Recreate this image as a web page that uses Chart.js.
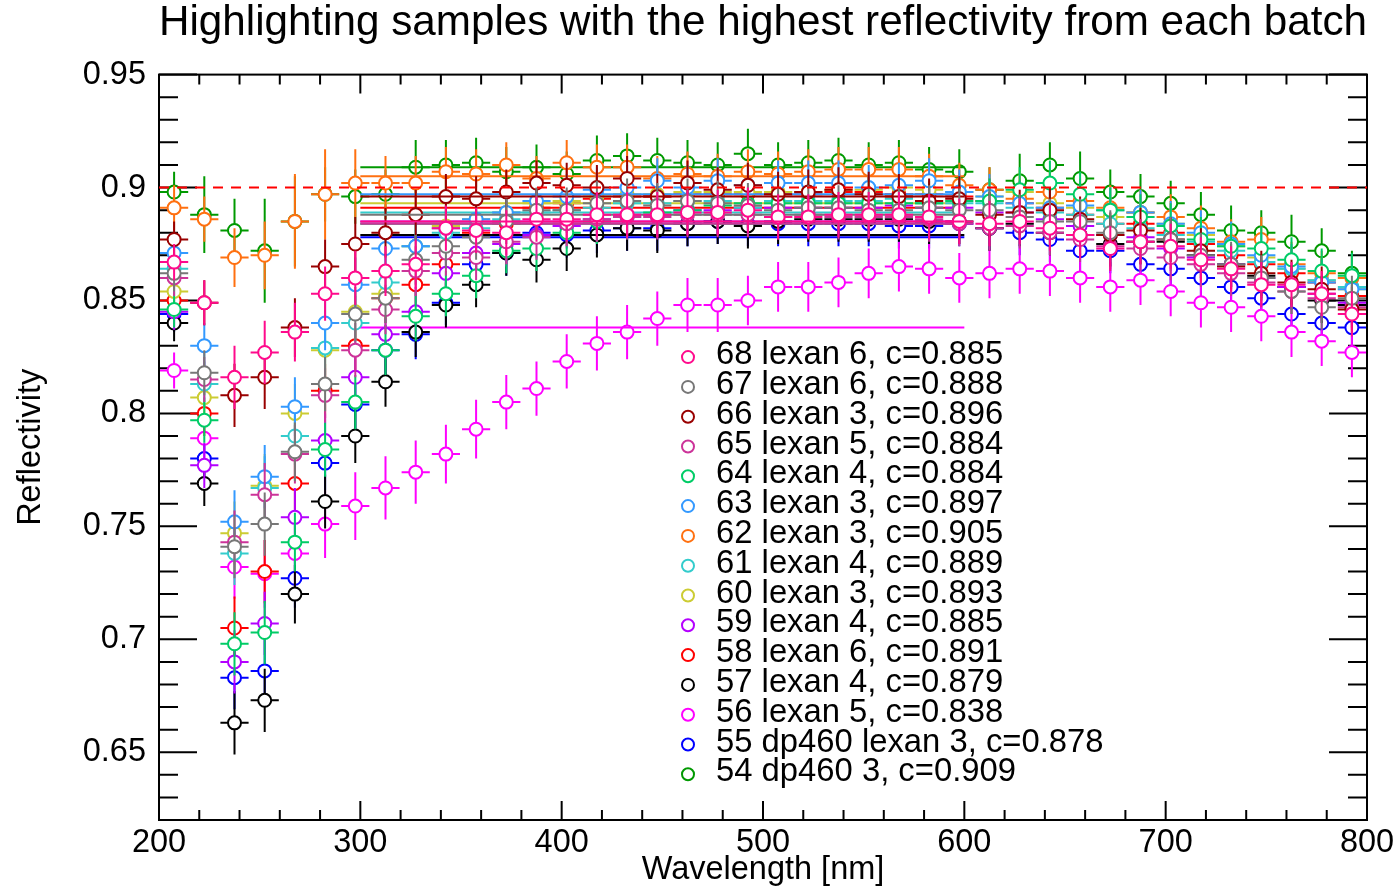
<!DOCTYPE html>
<html>
<head>
<meta charset="utf-8">
<title>Reflectivity by batch</title>
<script src="https://cdn.jsdelivr.net/npm/chart.js@4.4.0/dist/chart.umd.min.js"></script>
<style>
  html, body { margin: 0; padding: 0; background: #fff; }
  canvas { display: block; }
</style>
</head>
<body>
<canvas id="reflChart" width="1399" height="890"></canvas>
<script>
// wavelength bin centres (nm)
const wavelengths = [207.5, 222.5, 237.5, 252.5, 267.5, 282.5, 297.5, 312.5, 327.5, 342.5,
  357.5, 372.5, 387.5, 402.5, 417.5, 432.5, 447.5, 462.5, 477.5, 492.5,
  507.5, 522.5, 537.5, 552.5, 567.5, 582.5, 597.5, 612.5, 627.5, 642.5,
  657.5, 672.5, 687.5, 702.5, 717.5, 732.5, 747.5, 762.5, 777.5, 792.5];

const sampleLabels = ['68 lexan 6, c=0.885', '67 lexan 6, c=0.888', '66 lexan 3, c=0.896',
  '65 lexan 5, c=0.884', '64 lexan 4, c=0.884', '63 lexan 3, c=0.897', '62 lexan 3, c=0.905',
  '61 lexan 4, c=0.889', '60 lexan 3, c=0.893', '59 lexan 4, c=0.885', '58 lexan 6, c=0.891',
  '57 lexan 4, c=0.879', '56 lexan 5, c=0.838', '55 dp460 lexan 3, c=0.878', '54 dp460 3, c=0.909'];
const cValues = [0.885, 0.888, 0.896, 0.884, 0.884, 0.897, 0.905, 0.889, 0.893, 0.885, 0.891, 0.879, 0.838, 0.878, 0.909];
const colors = ['#ff0a8c', '#777777', '#990000', '#cc3399', '#00cc66', '#3399ff', '#ff7010',
  '#33cccc', '#cccc33', '#b400ff', '#ff0000', '#000000', '#ff00ff', '#0000ff', '#009900'];

const meanRange = [300, 600];
const threshold = 0.9;
const xTickValues = [200, 300, 400, 500, 600, 700, 800];
const yTickValues = [0.65, 0.7, 0.75, 0.8, 0.85, 0.9, 0.95];
const yTickLabels = ['0.65', '0.7', '0.75', '0.8', '0.85', '0.9', '0.95'];

const s68 = [0.867,0.849,0.816,0.827,0.836,0.853,0.860,0.863,0.866,0.882,0.881,0.880,0.886,0.886,0.888,0.888,0.888,0.889,0.889,0.890,0.887,0.887,0.888,0.888,0.888,0.887,0.885,0.884,0.885,0.882,0.879,0.873,0.876,0.874,0.868,0.864,0.857,0.857,0.853,0.844];
const s67 = [0.862,0.818,0.741,0.751,0.783,0.813,0.844,0.851,0.868,0.874,0.878,0.885,0.890,0.890,0.893,0.894,0.892,0.894,0.893,0.892,0.890,0.891,0.891,0.890,0.890,0.891,0.890,0.890,0.887,0.885,0.885,0.880,0.876,0.877,0.870,0.866,0.860,0.854,0.847,0.851];
const s66 = [0.877,0.849,0.808,0.816,0.838,0.865,0.875,0.880,0.888,0.896,0.895,0.898,0.902,0.901,0.900,0.904,0.896,0.902,0.899,0.901,0.897,0.898,0.899,0.897,0.896,0.894,0.895,0.888,0.889,0.890,0.886,0.879,0.881,0.877,0.872,0.865,0.862,0.858,0.855,0.846];
const s65 = [0.860,0.815,0.743,0.764,0.782,0.808,0.828,0.846,0.863,0.871,0.869,0.876,0.878,0.884,0.886,0.887,0.887,0.888,0.888,0.888,0.887,0.888,0.887,0.887,0.887,0.886,0.884,0.882,0.883,0.880,0.877,0.874,0.873,0.869,0.866,0.862,0.858,0.854,0.851,0.847];
const s64 = [0.846,0.797,0.698,0.703,0.743,0.784,0.805,0.828,0.843,0.853,0.861,0.872,0.873,0.880,0.885,0.887,0.889,0.890,0.892,0.893,0.893,0.893,0.893,0.893,0.893,0.893,0.894,0.894,0.899,0.902,0.897,0.890,0.887,0.883,0.877,0.874,0.873,0.868,0.863,0.861];
const s63 = [0.871,0.830,0.752,0.772,0.803,0.840,0.857,0.873,0.874,0.882,0.886,0.889,0.894,0.896,0.899,0.900,0.903,0.900,0.903,0.901,0.902,0.902,0.902,0.900,0.901,0.903,0.898,0.896,0.893,0.891,0.892,0.890,0.889,0.884,0.880,0.875,0.870,0.865,0.858,0.855];
const s62 = [0.891,0.886,0.869,0.870,0.885,0.897,0.902,0.902,0.902,0.907,0.906,0.910,0.904,0.911,0.909,0.909,0.904,0.906,0.905,0.907,0.906,0.907,0.908,0.908,0.908,0.905,0.901,0.899,0.895,0.898,0.894,0.891,0.889,0.887,0.882,0.876,0.877,0.866,0.862,0.860];
const s61 = [0.864,0.813,0.738,0.767,0.790,0.829,0.840,0.858,0.874,0.880,0.882,0.886,0.889,0.890,0.891,0.893,0.893,0.894,0.894,0.891,0.894,0.894,0.894,0.894,0.895,0.893,0.893,0.893,0.891,0.889,0.888,0.884,0.882,0.879,0.876,0.872,0.867,0.864,0.859,0.856];
const s60 = [0.854,0.807,0.747,0.768,0.800,0.828,0.845,0.853,0.874,0.883,0.886,0.889,0.893,0.894,0.896,0.897,0.897,0.898,0.898,0.898,0.898,0.898,0.899,0.899,0.900,0.899,0.898,0.896,0.898,0.893,0.891,0.887,0.889,0.884,0.879,0.874,0.869,0.864,0.859,0.855];
const s59 = [0.845,0.777,0.690,0.707,0.754,0.788,0.816,0.835,0.845,0.862,0.871,0.875,0.879,0.883,0.886,0.888,0.888,0.890,0.890,0.891,0.891,0.891,0.891,0.891,0.892,0.891,0.891,0.889,0.889,0.886,0.883,0.879,0.878,0.873,0.869,0.866,0.860,0.856,0.853,0.849];
const s58 = [0.850,0.800,0.705,0.730,0.769,0.810,0.830,0.851,0.857,0.866,0.880,0.884,0.891,0.893,0.895,0.896,0.896,0.897,0.897,0.897,0.897,0.897,0.898,0.898,0.897,0.897,0.896,0.894,0.893,0.891,0.888,0.884,0.884,0.880,0.875,0.870,0.866,0.862,0.858,0.852];
const s57 = [0.840,0.769,0.663,0.673,0.720,0.761,0.790,0.814,0.836,0.848,0.857,0.871,0.868,0.873,0.879,0.882,0.881,0.884,0.885,0.883,0.885,0.886,0.886,0.886,0.886,0.885,0.885,0.882,0.884,0.880,0.879,0.875,0.876,0.876,0.870,0.866,0.861,0.856,0.850,0.848];
const s56 = [0.819,0.789,0.732,0.729,0.738,0.751,0.759,0.767,0.774,0.782,0.793,0.805,0.811,0.823,0.831,0.836,0.842,0.848,0.848,0.850,0.856,0.856,0.858,0.862,0.865,0.864,0.860,0.862,0.864,0.863,0.860,0.856,0.859,0.854,0.849,0.847,0.843,0.836,0.832,0.827];
const s55 = [0.844,0.780,0.683,0.686,0.727,0.778,0.804,0.828,0.835,0.849,0.866,0.871,0.880,0.879,0.881,0.882,0.882,0.884,0.885,0.884,0.884,0.884,0.884,0.884,0.883,0.883,0.884,0.882,0.880,0.877,0.872,0.872,0.866,0.864,0.860,0.856,0.851,0.844,0.840,0.838];
const s54 = [0.898,0.888,0.881,0.872,0.885,0.897,0.896,0.897,0.909,0.910,0.911,0.907,0.909,0.906,0.912,0.914,0.912,0.911,0.910,0.915,0.910,0.911,0.912,0.910,0.911,0.908,0.907,0.899,0.903,0.910,0.904,0.898,0.896,0.893,0.888,0.881,0.880,0.876,0.872,0.862];

// vertical error half-lengths
const errStd = [0.008,0.010,0.014,0.014,0.013,0.012,0.012,0.011,0.011,0.010,0.010,0.010,0.010,0.010,0.010,0.010,0.010,0.010,0.010,0.010,0.010,0.010,0.010,0.010,0.010,0.010,0.010,0.010,0.010,0.010,0.010,0.010,0.010,0.010,0.010,0.010,0.010,0.010,0.010,0.010];
const err62 = [0.010,0.010,0.013,0.015,0.021,0.020,0.015,0.012,0.012,0.011,0.011,0.010,0.010,0.010,0.010,0.010,0.010,0.010,0.010,0.010,0.010,0.010,0.010,0.010,0.010,0.010,0.010,0.010,0.010,0.010,0.010,0.010,0.010,0.010,0.010,0.010,0.010,0.010,0.010,0.010];
const err56 = [0.008,0.010,0.014,0.015,0.015,0.015,0.015,0.014,0.014,0.013,0.013,0.012,0.012,0.012,0.012,0.012,0.012,0.012,0.012,0.011,0.011,0.011,0.011,0.011,0.011,0.011,0.011,0.011,0.011,0.011,0.011,0.011,0.011,0.011,0.011,0.011,0.011,0.011,0.011,0.011];
const err54 = [0.009,0.017,0.014,0.023,0.020,0.012,0.012,0.011,0.012,0.011,0.011,0.011,0.010,0.010,0.011,0.010,0.010,0.010,0.010,0.011,0.010,0.010,0.010,0.010,0.010,0.010,0.010,0.010,0.012,0.010,0.012,0.010,0.010,0.010,0.010,0.011,0.010,0.012,0.010,0.010];
const xHalfWidth = 7;

const reflect = [s68, s67, s66, s65, s64, s63, s62, s61, s60, s59, s58, s57, s56, s55, s54];
const errs = [errStd, errStd, errStd, errStd, errStd, errStd, err62, errStd, errStd, errStd, errStd, errStd, err56, errStd, err54];

const FONT = '"Liberation Sans", Arial, Helvetica, sans-serif';
Chart.defaults.font.family = FONT;
Chart.defaults.color = '#000';

// error crosses, drawn under each dataset's (white filled) circles
const errorBars = {
  id: 'errorBars',
  beforeDatasetDraw(chart, args) {
    const ds = chart.data.datasets[args.index];
    if (!ds.yErr) return;
    const { ctx, scales: { x, y } } = chart;
    ctx.save();
    ctx.strokeStyle = ds.borderColor;
    ctx.lineWidth = 2;
    ctx.beginPath();
    ds.data.forEach((p, i) => {
      const px = x.getPixelForValue(p.x);
      const py = y.getPixelForValue(p.y);
      ctx.moveTo(x.getPixelForValue(p.x - xHalfWidth), py);
      ctx.lineTo(x.getPixelForValue(p.x + xHalfWidth), py);
      ctx.moveTo(px, y.getPixelForValue(p.y + ds.yErr[i]));
      ctx.lineTo(px, y.getPixelForValue(p.y - ds.yErr[i]));
    });
    ctx.stroke();
    ctx.restore();
  }
};

// IDL style box with inward ticks on all four sides
const frame = {
  id: 'frame',
  beforeDatasetsDraw(chart) {
    const { ctx, chartArea: a, scales: { x, y } } = chart;
    ctx.save();
    ctx.strokeStyle = '#000';
    ctx.lineWidth = 2;
    ctx.beginPath();
    for (let v = 200; v <= 800; v += 20) {
      const px = x.getPixelForValue(v);
      const len = v % 100 === 0 ? 19 : 10;
      ctx.moveTo(px, a.bottom); ctx.lineTo(px, a.bottom - len);
      ctx.moveTo(px, a.top); ctx.lineTo(px, a.top + len);
    }
    for (let k = 62; k <= 95; k++) {
      const py = y.getPixelForValue(k / 100);
      const len = k % 5 === 0 ? 38 : 19;
      ctx.moveTo(a.left, py); ctx.lineTo(a.left + len, py);
      ctx.moveTo(a.right, py); ctx.lineTo(a.right - len, py);
    }
    ctx.stroke();
    ctx.strokeRect(a.left, a.top, a.right - a.left, a.bottom - a.top);
    ctx.restore();
  }
};

const sampleLegend = {
  id: 'sampleLegend',
  afterDraw(chart) {
    const { ctx, chartArea: a } = chart;
    ctx.save();
    ctx.font = '32.8px ' + FONT;
    ctx.fillStyle = '#000';
    ctx.textBaseline = 'alphabetic';
    ctx.lineWidth = 2;
    sampleLabels.forEach((label, i) => {
      const base = a.top + 289.5 + i * 29.8;
      ctx.strokeStyle = colors[i];
      ctx.beginPath();
      ctx.arc(a.left + 529, base - 7, 6, 0, Math.PI * 2);
      ctx.stroke();
      ctx.fillText(label, a.left + 557, base);
    });
    ctx.restore();
  }
};

const datasets = [{
  label: 'threshold',
  data: [{ x: 200, y: threshold }, { x: 800, y: threshold }],
  showLine: true, borderColor: '#ff0000', borderWidth: 2, borderDash: [10, 8], pointRadius: 0
}];
sampleLabels.forEach((label, i) => {
  datasets.push({
    label: label + ' mean',
    data: [{ x: meanRange[0], y: cValues[i] }, { x: meanRange[1], y: cValues[i] }],
    showLine: true, borderColor: colors[i], borderWidth: 2, pointRadius: 0
  });
  datasets.push({
    label: label,
    data: wavelengths.map((w, k) => ({ x: w, y: reflect[i][k] })),
    yErr: errs[i],
    borderColor: colors[i],
    backgroundColor: '#ffffff',
    pointRadius: 6.5,
    pointBorderWidth: 2,
    showLine: false
  });
});

new Chart(document.getElementById('reflChart'), {
  type: 'scatter',
  data: { datasets },
  options: {
    responsive: false,
    animation: false,
    events: [],
    layout: { padding: { left: 0, right: 32, top: 0, bottom: 0 } },
    plugins: {
      legend: { display: false },
      tooltip: { enabled: false },
      title: {
        display: true,
        fullSize: false,
        text: 'Highlighting samples with the highest reflectivity from each batch',
        color: '#000',
        font: { size: 42.6, weight: 'normal', lineHeight: 1 },
        padding: { top: 1.5, bottom: 30.5 }
      }
    },
    scales: {
      x: {
        type: 'linear', min: 200, max: 800,
        grid: { display: false, drawTicks: false },
        border: { display: false },
        afterBuildTicks: s => { s.ticks = xTickValues.map(v => ({ value: v })); },
        afterFit: s => { s.height = 70; },
        ticks: { font: { size: 32.5 }, color: '#000', padding: 4, maxRotation: 0, autoSkip: false },
        title: { display: true, text: 'Wavelength [nm]', font: { size: 32.5 }, color: '#000', padding: { top: 0, bottom: 0 } }
      },
      y: {
        type: 'linear', min: 0.62, max: 0.95,
        grid: { display: false, drawTicks: false },
        border: { display: false },
        afterBuildTicks: s => { s.ticks = yTickValues.map(v => ({ value: v })); },
        afterFit: s => { s.width = 159; },
        ticks: {
          font: { size: 32.5 }, color: '#000', padding: 13, autoSkip: false,
          callback: (v, i) => yTickLabels[i]
        },
        title: { display: true, text: 'Reflectivity', font: { size: 32.5 }, color: '#000', padding: { top: 12, bottom: 0 } }
      }
    }
  },
  plugins: [frame, errorBars, sampleLegend]
});
</script>
</body>
</html>
